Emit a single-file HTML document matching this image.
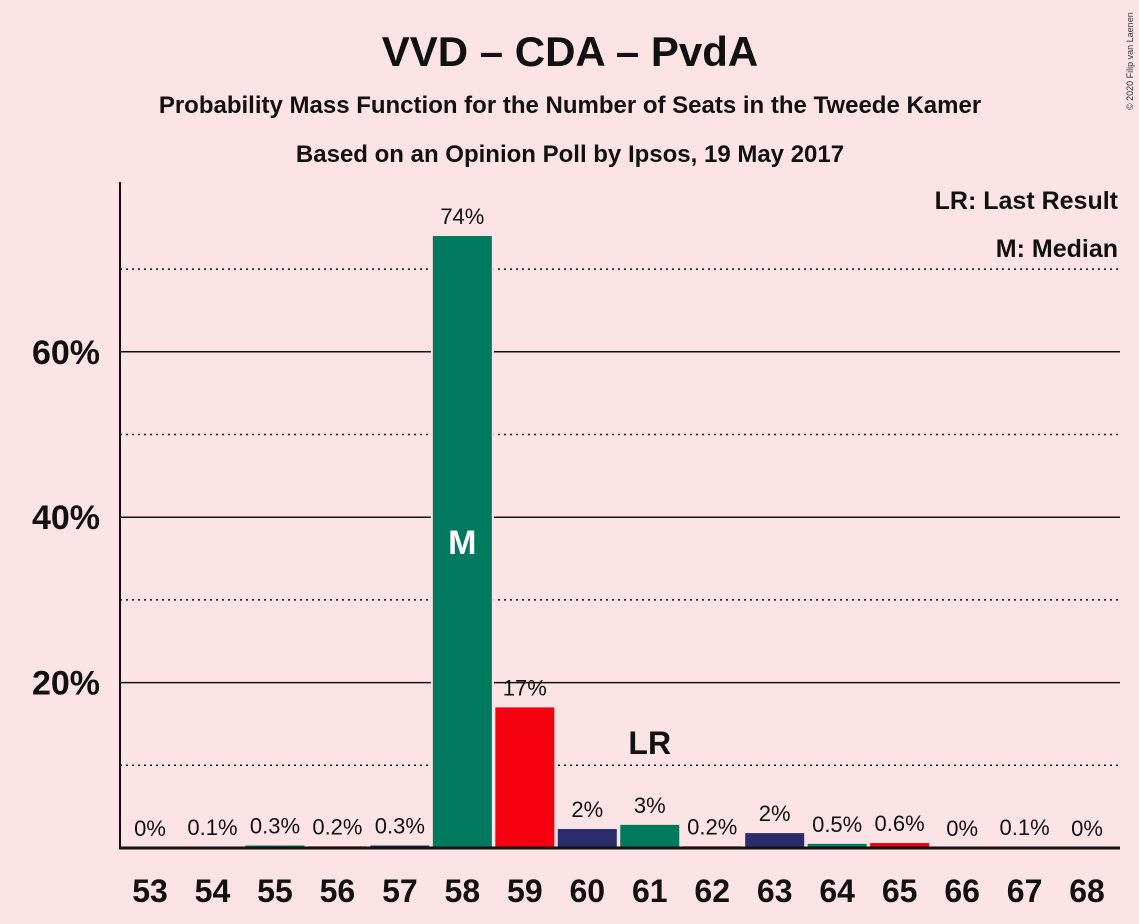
<!DOCTYPE html>
<html><head><meta charset="utf-8"><style>
body{margin:0;background:#fce4e6;}
svg{display:block;font-family:"Liberation Sans",sans-serif;}
</style></head><body>
<svg id="chart" width="1139" height="924" viewBox="0 0 1139 924">
<rect width="1139" height="924" fill="#fce4e6"/>
<text x="570" y="66" text-anchor="middle" font-size="42" font-weight="bold" fill="#111">VVD – CDA – PvdA</text>
<text x="570" y="113" text-anchor="middle" font-size="24" font-weight="bold" fill="#111">Probability Mass Function for the Number of Seats in the Tweede Kamer</text>
<text x="570" y="162" text-anchor="middle" font-size="24" font-weight="bold" fill="#111">Based on an Opinion Poll by Ipsos, 19 May 2017</text>
<text transform="translate(1133,110) rotate(-90)" font-size="9" fill="#333">© 2020 Filip van Laenen</text>
<g id="grid"></g>
<g id="bars"></g>
<line x1="120" y1="182" x2="120" y2="849" stroke="#111" stroke-width="2"/>
<line x1="119" y1="848" x2="1120" y2="848" stroke="#111" stroke-width="3"/>
<text x="1118" y="209" text-anchor="end" font-size="25" font-weight="bold" fill="#111">LR: Last Result</text>
<text x="1118" y="257" text-anchor="end" font-size="25" font-weight="bold" fill="#111">M: Median</text>
</svg>
<script>
const seats=[53,54,55,56,57,58,59,60,61,62,63,64,65,66,67,68];
const probs=[0,0.1,0.3,0.2,0.3,74,17,2.3,2.8,0.2,1.8,0.5,0.6,0,0.1,0];
const labels=["0%","0.1%","0.3%","0.2%","0.3%","74%","17%","2%","3%","0.2%","2%","0.5%","0.6%","0%","0.1%","0%"];
const yTicks=[20,40,60];
const yMinor=[10,30,50,70];
const medianSeat=58, lastResultSeat=61;
const NS="http://www.w3.org/2000/svg";
const y=v=>848-v*8.27;
const x=i=>150+i*62.47;
const colors=["#2a2c6b","#007a5e","#f5000f"];
const grid=document.getElementById('grid'), bars=document.getElementById('bars'), svg=document.getElementById('chart');
function mk(t,a,p){const e=document.createElementNS(NS,t);for(const k in a)e.setAttribute(k,a[k]);p.appendChild(e);return e;}
yMinor.forEach(v=>{const l=mk('line',{x1:120,x2:1120,y1:y(v),y2:y(v),stroke:'#111','stroke-width':1.5,'stroke-dasharray':'2,4'},grid);

});
yTicks.forEach(v=>{const l=mk('line',{x1:120,x2:1120,y1:y(v),y2:y(v),stroke:'#111','stroke-width':1.5},grid);


const t=mk('text',{x:100,y:y(v)+12,'text-anchor':'end','font-size':34,'font-weight':'bold',fill:'#111'},svg);t.textContent=v+'%';

});
seats.forEach((s,i)=>{
const c=colors[((s-54)%3+3)%3];
const h=probs[i]*8.27;
const r=mk('rect',{x:x(i)-31.5,y:848-h-1.5,width:63,height:h+1.5,fill:'#fce4e6'},bars);


const b=mk('rect',{x:x(i)-29.5,y:848-h,width:59,height:h,fill:c},bars);


const t=mk('text',{x:x(i),y:Math.min(y(probs[i])-12,836),'text-anchor':'middle','font-size':22,fill:'#111'},svg);t.textContent=labels[i];


const xl=mk('text',{x:x(i),y:902,'text-anchor':'middle','font-size':32,'font-weight':'bold',fill:'#111'},svg);xl.textContent=s;


if(s===medianSeat){const m=mk('text',{x:x(i),y:y(probs[i]/2)+12,'text-anchor':'middle','font-size':34,'font-weight':'bold',fill:'#fff'},svg);m.textContent='M';

}
if(s===lastResultSeat){const m=mk('text',{x:x(i),y:754,'text-anchor':'middle','font-size':32,'font-weight':'bold',fill:'#111'},svg);m.textContent='LR';

}
});
</script>
</body></html>
